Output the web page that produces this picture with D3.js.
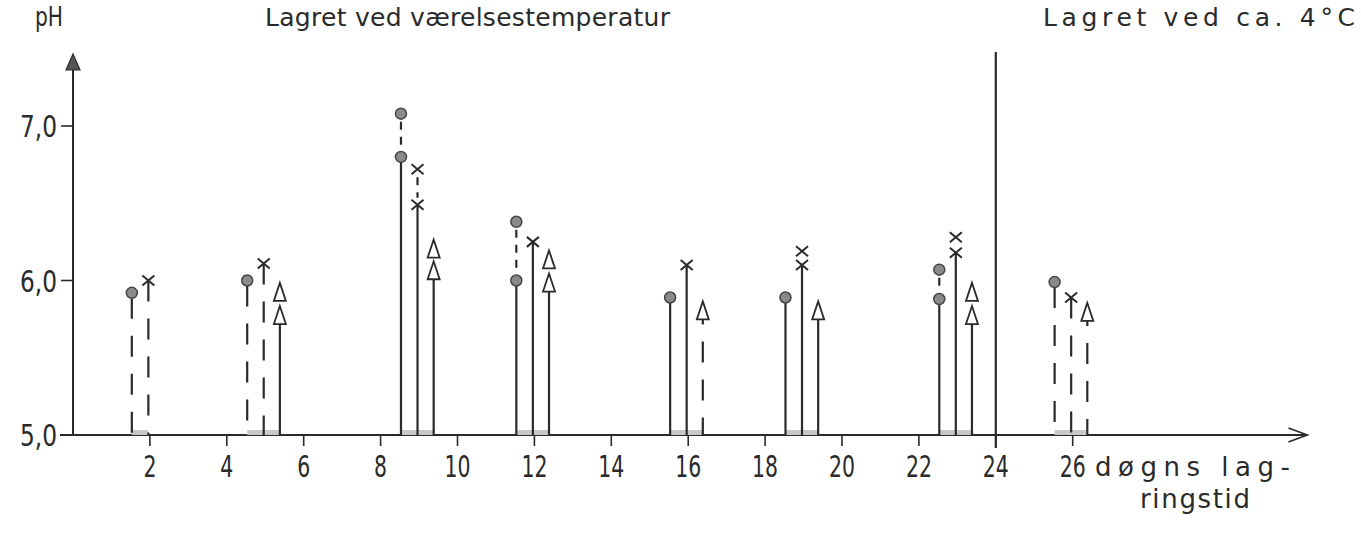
<!DOCTYPE html>
<html>
<head>
<meta charset="utf-8">
<script src="https://cdn.jsdelivr.net/npm/d3@7"></script>
<style>
  body { margin: 0; background: #fff; }
  svg text { font-family: "DejaVu Sans", sans-serif; fill: #2a2a2a; }
</style>
</head>
<body>
<svg id="chart" width="1361" height="537"></svg>
<script>
// storage days for each measurement group
const days = [2, 5, 9, 12, 16, 19, 23, 26];

// pH; "high" is the second reading joined above the stem
const circleLow  = [5.92, 6.00, 6.80, 6.00, 5.89, 5.89, 5.88, 5.99];
const circleHigh = [null, null, 7.08, 6.38, null, null, 6.07, null];
const crossLow   = [6.00, 6.11, 6.49, 6.25, 6.10, 6.10, 6.18, 5.89];
const crossHigh  = [null, null, 6.72, null, null, 6.19, 6.28, null];
const triLow     = [null, 5.77, 6.06, 5.98, 5.80, 5.80, 5.77, 5.79];
const triHigh    = [null, 5.92, 6.20, 6.13, null, null, 5.92, null];

// which stems are drawn dashed
const circleDashed = [true, true, false, false, false, false, false, true];
const crossDashed  = [true, true, false, false, false, false, false, true];
const triDashed    = [false, false, false, false, true, false, false, true];

const xTicks = [2, 4, 6, 8, 10, 12, 14, 16, 18, 20, 22, 24, 26];
const yTicks = [5, 6, 7];
const splitDay = 24;

const ink = "#2a2a2a";
const svg = d3.select("#chart");

const x = d3.scaleLinear().domain([0, 32]).range([73, 73 + 32 * 38.45]);
const y = d3.scaleLinear().domain([5, 7]).range([435, 126]);
const y0 = y(5);

// axes
svg.append("line")
    .attr("x1", 60).attr("x2", x(32) + 2)
    .attr("y1", y0).attr("y2", y0)
    .attr("stroke", ink).attr("stroke-width", 2);

svg.append("path")
    .attr("d", `M${x(32) - 15},${y0 - 7} L${x(32) + 4},${y0} L${x(32) - 15},${y0 + 7}`)
    .attr("fill", "none").attr("stroke", ink).attr("stroke-width", 1.6);

svg.append("line")
    .attr("x1", x(0)).attr("x2", x(0))
    .attr("y1", y0).attr("y2", 62)
    .attr("stroke", ink).attr("stroke-width", 2);

svg.append("path")
    .attr("d", `M${x(0)},54 L${x(0) + 7},70 L${x(0) - 7},70 Z`)
    .attr("fill", "#555").attr("stroke", ink).attr("stroke-width", 1.2);

// divider between the two storage conditions
svg.append("line")
    .attr("x1", x(splitDay)).attr("x2", x(splitDay))
    .attr("y1", 52).attr("y2", y0 + 13)
    .attr("stroke", ink).attr("stroke-width", 2.2);

// x ticks
const xt = svg.append("g");
xt.selectAll("line").data(xTicks).join("line")
    .attr("x1", d => x(d)).attr("x2", d => x(d))
    .attr("y1", y0).attr("y2", y0 + 11)
    .attr("stroke", ink).attr("stroke-width", 1.6);
xt.selectAll("text").data(xTicks).join("text")
    .attr("x", d => x(d)).attr("y", 477)
    .attr("text-anchor", "middle")
    .attr("textLength", d => d < 10 ? 13 : 26)
    .attr("lengthAdjust", "spacingAndGlyphs")
    .style("font-size", "30px")
    .text(d => d);

// y ticks
const yt = svg.append("g");
yt.selectAll("line").data(yTicks).join("line")
    .attr("x1", 61).attr("x2", x(0))
    .attr("y1", d => y(d)).attr("y2", d => y(d))
    .attr("stroke", ink).attr("stroke-width", 1.6);
yt.selectAll("text").data(yTicks).join("text")
    .attr("x", 20).attr("y", d => y(d) + 11)
    .attr("textLength", 37)
    .attr("lengthAdjust", "spacingAndGlyphs")
    .style("font-size", "30px")
    .text(d => d3.format(".1f")(d).replace(".", ","));

// titles
svg.append("text").attr("x", 35).attr("y", 26)
    .attr("textLength", 28).attr("lengthAdjust", "spacingAndGlyphs")
    .style("font-size", "27px").text("pH");
svg.append("text").attr("x", 265).attr("y", 26)
    .attr("textLength", 405).attr("lengthAdjust", "spacing")
    .style("font-size", "25px").text("Lagret ved værelsestemperatur");
svg.append("text").attr("x", 1043).attr("y", 26)
    .attr("textLength", 312).attr("lengthAdjust", "spacing")
    .style("font-size", "25px").text("Lagret ved ca. 4°C");
svg.append("text").attr("x", 1095).attr("y", 476)
    .attr("textLength", 195).attr("lengthAdjust", "spacing")
    .style("font-size", "26px").text("døgns lag-");
svg.append("text").attr("x", 1140).attr("y", 508)
    .attr("textLength", 110).attr("lengthAdjust", "spacing")
    .style("font-size", "26px").text("ringstid");

// series: offset in days around each group
const series = [
    { low: circleLow, high: circleHigh, dashed: circleDashed, off: -0.47, kind: "circle", top: 5 },
    { low: crossLow,  high: crossHigh,  dashed: crossDashed,  off: -0.04, kind: "cross",  top: 0 },
    { low: triLow,    high: triHigh,    dashed: triDashed,    off: 0.38,  kind: "tri",    top: -8 }
];

// stippled pad at the foot of each group
const pads = svg.append("g");
days.forEach((d, i) => {
    const xs = series.filter(s => s.low[i] != null).map(s => x(d + s.off));
    pads.append("rect")
        .attr("x", d3.min(xs)).attr("y", y0 - 5)
        .attr("width", d3.max(xs) - d3.min(xs)).attr("height", 5)
        .attr("fill", "#c8c8c8");
});

function drawMarker(g, kind, cx, cy) {
    if (kind === "circle") {
        g.append("circle").attr("cx", cx).attr("cy", cy).attr("r", 5.5)
            .attr("fill", "#8a8a8a").attr("stroke", "#444").attr("stroke-width", 1.5);
    } else if (kind === "cross") {
        g.append("path")
            .attr("d", `M${cx - 6},${cy - 5} L${cx + 6},${cy + 5} M${cx - 6},${cy + 5} L${cx + 6},${cy - 5}`)
            .attr("stroke", ink).attr("stroke-width", 2).attr("fill", "none");
    } else {
        g.append("path")
            .attr("d", `M${cx},${cy - 10} L${cx + 6},${cy + 8} L${cx - 6},${cy + 8} Z`)
            .attr("stroke", ink).attr("stroke-width", 1.8).attr("fill", "#fff");
    }
}

const marks = svg.append("g");
series.forEach(s => {
    days.forEach((d, i) => {
        if (s.low[i] == null) return;
        const cx = x(d + s.off);
        const yl = y(s.low[i]);
        marks.append("line")
            .attr("x1", cx).attr("x2", cx)
            .attr("y1", yl + s.top).attr("y2", y0)
            .attr("stroke", ink).attr("stroke-width", 2.2)
            .attr("stroke-dasharray", s.dashed[i] ? "21,17" : null);
        if (s.high[i] != null) {
            const yh = y(s.high[i]);
            if (yl - yh > 22 && s.kind !== "tri") {
                marks.append("line")
                    .attr("x1", cx).attr("x2", cx)
                    .attr("y1", yh + 8).attr("y2", yl - 7)
                    .attr("stroke", ink).attr("stroke-width", 2.2)
                    .attr("stroke-dasharray", "8,7");
            }
            drawMarker(marks, s.kind, cx, yh);
        }
        drawMarker(marks, s.kind, cx, yl);
    });
});
</script>
</body>
</html>
